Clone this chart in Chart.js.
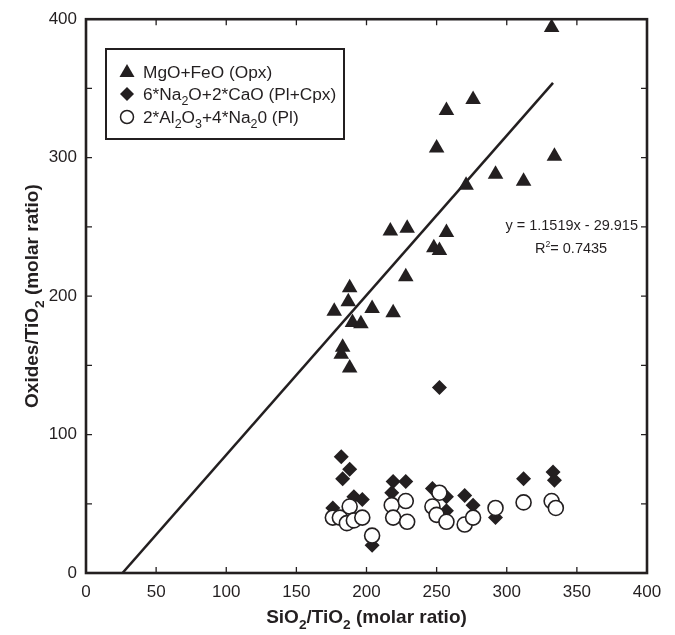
<!DOCTYPE html>
<html>
<head>
<meta charset="utf-8">
<script src="https://cdn.jsdelivr.net/npm/chart.js@4.4.0/dist/chart.umd.min.js"></script>
<style>
  html, body { margin: 0; padding: 0; background: #fff; }
  canvas { display: block; }
</style>
</head>
<body>
<canvas id="chart" width="675" height="635"></canvas>
<script>
const ink = "#231f20";
const font = "'Liberation Sans', Arial, Helvetica, sans-serif";

// MgO+FeO (Opx), triangles
const opxX = [332, 276, 257, 250, 334, 292, 312, 271, 248, 252, 257, 217, 229, 228, 188, 187, 177, 204, 219, 190, 196, 183, 182, 188];
const opxY = [394, 342, 334, 307, 301, 288, 283, 280, 235, 233, 246, 247, 249, 214, 206, 196, 189, 191, 188, 181, 180, 163, 158, 148];

// 6*Na2O+2*CaO (Pl+Cpx), diamonds
const cpxX = [252, 182, 188, 183, 191, 176, 197, 204, 219, 228, 218, 247, 257, 257, 270, 276, 292, 312, 333, 334];
const cpxY = [134, 84, 75, 68, 55, 47, 53, 20, 66, 66, 58, 61, 55, 45, 56, 49, 40, 68, 73, 67];

// 2*Al2O3+4*Na2O (Pl), open circles
const plX = [176, 181, 188, 186, 191, 197, 204, 218, 228, 219, 229, 252, 247, 250, 257, 270, 276, 292, 312, 332, 335];
const plY = [40, 40, 48, 36, 38, 40, 27, 49, 52, 40, 37, 58, 48, 42, 37, 35, 40, 47, 51, 52, 47];

// regression line ends
const fitX = [26, 333];
const fitY = [0, 354];

const axisMin = 0;
const axisMax = 400;

function pts(xs, ys) {
  return xs.map((x, i) => ({ x, y: ys[i] }));
}

// parts: [text, "" | "sub" | "sup"], y is the baseline
function drawRich(ctx, parts, x, y, size, bold, align) {
  const weight = bold ? "bold " : "";
  const sizeOf = (m) => (m === "sub" ? size * 0.72 : m === "sup" ? size * 0.6 : size);
  let total = 0;
  for (const [t, m] of parts) {
    ctx.font = weight + sizeOf(m) + "px " + font;
    total += ctx.measureText(t).width;
  }
  let cx = align === "center" ? x - total / 2 : align === "right" ? x - total : x;
  ctx.textAlign = "left";
  ctx.textBaseline = "alphabetic";
  for (const [t, m] of parts) {
    ctx.font = weight + sizeOf(m) + "px " + font;
    const dy = m === "sub" ? size * 0.3 : m === "sup" ? -size * 0.4 : 0;
    ctx.fillText(t, cx, y + dy);
    cx += ctx.measureText(t).width;
  }
}

function marker(ctx, kind, x, y) {
  ctx.beginPath();
  if (kind === "tri") {
    ctx.moveTo(x, y - 8);
    ctx.lineTo(x + 7.5, y + 5);
    ctx.lineTo(x - 7.5, y + 5);
    ctx.closePath();
    ctx.fill();
  } else if (kind === "dia") {
    ctx.moveTo(x, y - 7);
    ctx.lineTo(x + 7, y);
    ctx.lineTo(x, y + 7);
    ctx.lineTo(x - 7, y);
    ctx.closePath();
    ctx.fill();
  } else {
    ctx.arc(x, y, 6.5, 0, Math.PI * 2);
    ctx.fillStyle = "#fff";
    ctx.fill();
    ctx.lineWidth = 1.5;
    ctx.stroke();
  }
}

const frame = {
  id: "frame",
  afterDraw(chart) {
    const { ctx, chartArea: a, scales: { x, y } } = chart;
    ctx.save();
    ctx.strokeStyle = ink;
    ctx.fillStyle = ink;

    // inward ticks on all four sides
    ctx.lineWidth = 1.3;
    ctx.beginPath();
    for (let v = 50; v < axisMax; v += 50) {
      const px = x.getPixelForValue(v);
      const py = y.getPixelForValue(v);
      ctx.moveTo(px, a.bottom); ctx.lineTo(px, a.bottom - 6);
      ctx.moveTo(px, a.top); ctx.lineTo(px, a.top + 6);
      ctx.moveTo(a.left, py); ctx.lineTo(a.left + 6, py);
      ctx.moveTo(a.right, py); ctx.lineTo(a.right - 6, py);
    }
    ctx.stroke();

    ctx.lineWidth = 2.6;
    ctx.strokeRect(a.left, a.top, a.right - a.left, a.bottom - a.top);

    // legend
    ctx.lineWidth = 2;
    ctx.strokeRect(106, 49, 238, 90);
    ctx.fillStyle = ink;
    marker(ctx, "tri", 127, 72);
    marker(ctx, "dia", 127, 94);
    marker(ctx, "circ", 127, 117);
    ctx.fillStyle = ink;
    drawRich(ctx, [["MgO+FeO (Opx)", ""]], 143, 78, 17.3, false, "left");
    drawRich(ctx, [["6*Na", ""], ["2", "sub"], ["O+2*CaO (Pl+Cpx)", ""]], 143, 100, 17.3, false, "left");
    drawRich(ctx, [["2*Al", ""], ["2", "sub"], ["O", ""], ["3", "sub"], ["+4*Na", ""], ["2", "sub"], ["0 (Pl)", ""]], 143, 123, 17.3, false, "left");

    // fit equation
    drawRich(ctx, [["y = 1.1519x - 29.915", ""]], 638, 230, 14.5, false, "right");
    drawRich(ctx, [["R", ""], ["2", "sup"], ["= 0.7435", ""]], 535, 253, 14.5, false, "left");

    // axis titles
    drawRich(ctx, [["SiO", ""], ["2", "sub"], ["/TiO", ""], ["2", "sub"], [" (molar ratio)", ""]], (a.left + a.right) / 2, 623, 19, true, "center");
    ctx.translate(38, (a.top + a.bottom) / 2);
    ctx.rotate(-Math.PI / 2);
    drawRich(ctx, [["Oxides/TiO", ""], ["2", "sub"], [" (molar ratio)", ""]], 0, 0, 19, true, "center");
    ctx.restore();
  }
};

new Chart(document.getElementById("chart"), {
  type: "scatter",
  data: {
    datasets: [
      {
        label: "2*Al2O3+4*Na20 (Pl)",
        data: pts(plX, plY),
        pointStyle: "circle",
        pointRadius: 7.5,
        backgroundColor: "#fff",
        borderColor: ink,
        borderWidth: 1.6,
        clip: false,
        order: 0
      },
      {
        label: "6*Na2O+2*CaO (Pl+Cpx)",
        data: pts(cpxX, cpxY),
        pointStyle: "rectRot",
        pointRadius: 7.5,
        backgroundColor: ink,
        borderColor: ink,
        borderWidth: 0,
        clip: false,
        order: 1
      },
      {
        label: "MgO+FeO (Opx)",
        data: pts(opxX, opxY),
        pointStyle: "triangle",
        pointRadius: 9,
        backgroundColor: ink,
        borderColor: ink,
        borderWidth: 0,
        clip: false,
        order: 2
      },
      {
        type: "line",
        label: "fit",
        data: pts(fitX, fitY),
        borderColor: ink,
        borderWidth: 2.5,
        pointRadius: 0,
        fill: false,
        order: 3
      }
    ]
  },
  options: {
    responsive: false,
    animation: false,
    layout: { padding: { top: 17, right: 28, left: 0, bottom: 0 } },
    plugins: {
      legend: { display: false },
      tooltip: { enabled: false }
    },
    scales: {
      x: {
        type: "linear",
        min: axisMin,
        max: axisMax,
        grid: { display: false, drawTicks: false },
        border: { display: false },
        ticks: {
          stepSize: 50,
          padding: 9,
          color: ink,
          font: { family: font, size: 17 }
        },
        afterFit: (s) => { s.height = 62; }
      },
      y: {
        type: "linear",
        min: axisMin,
        max: axisMax,
        grid: { display: false, drawTicks: false },
        border: { display: false },
        ticks: {
          stepSize: 50,
          padding: 9,
          color: ink,
          font: { family: font, size: 17 },
          callback: (v) => (v % 100 === 0 ? v : "")
        },
        afterFit: (s) => { s.width = 86; }
      }
    }
  },
  plugins: [frame]
});
</script>
</body>
</html>
